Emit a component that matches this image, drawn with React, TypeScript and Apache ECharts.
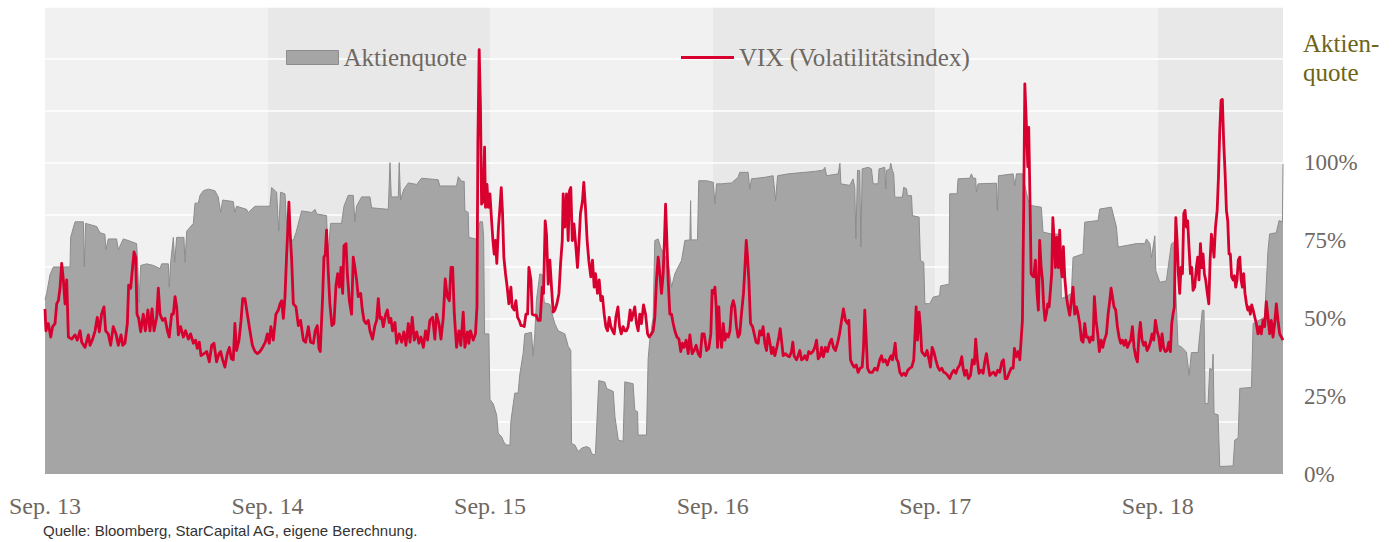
import React, { useEffect, useRef } from "react";
import * as echarts from "echarts";

// x values are months since Sep. 2013
const xTickLabels = ["Sep. 13", "Sep. 14", "Sep. 15", "Sep. 16", "Sep. 17", "Sep. 18"];
const xMax = 66.75;

const legendNames = ["Aktienquote", "VIX (Volatilitätsindex)"];
const sourceNote = "Quelle: Bloomberg, StarCapital AG, eigene Berechnung.";
const rightAxisTitle = "Aktien-\nquote";

// Aktienquote in % [month, value]
const aktienquote: number[][] = [
  [0,56],[0.09,58],[0.27,64],[0.45,66.5],[1.35,66.5],[1.38,76],[1.62,81],[2.07,81],[2.12,66.5],[2.19,80.5],[2.79,79.5],[2.96,77.5],[3.23,77],[3.29,72],[3.41,75.5],[3.86,75.5],[3.95,72],[4.22,75.5],[4.49,75],[4.94,74],[5.0,67],[5.07,55],[5.16,67],[5.48,67.5],[5.84,67],[6.2,66],[6.29,67.5],[6.65,67.5],[6.7,60],[6.77,67.5],[6.92,76],[6.99,68],[7.1,76],[7.49,76],[7.55,68],[7.64,78],[8.0,80.5],[8.09,87],[8.27,87],[8.36,89.5],[8.54,91],[8.8,91.5],[9.16,91],[9.34,89],[9.47,84],[9.58,88],[10.15,87.5],[10.24,84],[10.33,86],[10.87,85],[10.96,84],[11.32,86],[12.13,86],[12.22,92],[12.49,90.5],[12.6,78],[12.7,90.5],[12.94,90],[13.06,76],[13.39,75],[13.53,77.5],[13.84,84.5],[14.38,84],[14.56,85],[14.65,83.5],[15.18,83],[15.26,70.5],[15.4,80.5],[15.99,80.5],[16.12,86],[16.35,89.5],[16.62,89.5],[16.71,81],[16.8,86],[17.07,89],[17.52,89],[17.61,85.5],[18.51,85],[18.6,100],[18.67,89],[19.05,89],[19.1,100],[19.17,88],[19.35,91.5],[19.59,93.5],[20.04,93],[20.3,95],[21.2,94.5],[21.29,92.5],[22.19,92.5],[22.28,95.5],[22.46,94],[22.6,94],[22.64,84.6],[22.82,84],[22.85,76],[23.21,75.5],[23.29,75.5],[23.45,81],[23.59,81],[23.65,76],[23.7,45],[23.93,45],[23.99,24],[24.17,22.5],[24.35,19],[24.44,13],[24.62,12],[24.76,10],[24.89,9.3],[25.07,9.3],[25.12,17],[25.33,26],[25.51,26],[25.6,32],[25.78,38.7],[25.87,45],[26.23,45.5],[26.32,38],[26.41,45],[26.5,56],[26.68,64.3],[26.81,64],[26.92,55],[27.22,54.5],[27.31,52],[27.49,48.3],[27.67,46],[28.03,45],[28.21,41],[28.35,39.7],[28.39,9.8],[28.57,9.3],[28.75,7.2],[28.93,8.3],[29.2,8.8],[29.38,8.3],[29.47,6.6],[29.61,6.1],[29.68,6.6],[29.86,30],[30.19,29.5],[30.28,27.5],[30.64,26.5],[30.73,18.4],[30.91,10.9],[31.17,10.5],[31.26,29.6],[31.71,29],[31.8,20.5],[31.95,20],[31.98,12.5],[32.43,12.5],[32.52,37],[32.61,43],[32.79,50.4],[32.88,75],[33.06,75.5],[33.21,72.5],[33.6,68],[33.78,60],[33.96,64.3],[34.14,66.5],[34.32,68.6],[34.5,75],[34.77,75.2],[34.81,87.8],[34.84,75.2],[35.18,75.2],[35.25,94.2],[35.67,94.2],[36.03,93.7],[36.12,86.8],[36.21,93.2],[36.48,93.2],[37.02,93.5],[37.37,95.3],[37.46,96.9],[37.91,96.9],[38.0,91.5],[38.09,94.8],[38.81,95.3],[39.26,95.8],[39.39,87.8],[39.5,95.8],[40.07,96.4],[40.97,96.9],[41.51,97.2],[41.96,97.6],[42.05,98.5],[42.14,95.8],[42.77,96.4],[42.86,99.8],[42.91,93.2],[43.39,92.7],[43.57,94.8],[43.66,92],[43.72,75.5],[43.81,97.5],[43.93,97.5],[43.99,72.9],[44.06,98],[44.38,98.5],[44.56,98],[44.65,93.2],[44.92,93.2],[44.97,98],[45.28,98.5],[45.33,91.6],[45.37,97.5],[45.55,98],[45.6,99.8],[45.69,97.5],[45.76,96.4],[45.82,88.9],[46.23,88.9],[46.3,92.1],[46.45,91.6],[46.5,89.4],[46.72,89.4],[46.77,83],[47.13,82.5],[47.2,68.6],[47.38,68],[47.44,54.7],[47.71,54.7],[47.88,56.8],[48.24,57.3],[48.28,60.4],[48.75,61],[48.78,90],[49.18,90],[49.23,94.8],[49.86,95],[49.95,96.4],[50.04,95],[50.18,95],[50.22,90.5],[50.31,93.2],[51.3,93.4],[51.35,84.6],[51.41,95.8],[52.2,96.4],[52.29,92.6],[52.38,96.4],[52.7,96.4],[53.0,88],[53.19,86.2],[53.72,85.7],[53.81,77.7],[54.26,77.1],[54.75,77],[54.8,56.4],[55.07,57],[55.34,58],[55.43,69.6],[55.97,70.7],[56.06,80.9],[56.78,81.4],[56.87,85.1],[57.5,85.7],[57.77,79.3],[57.86,72.9],[58.85,74],[59.3,74],[59.39,75.5],[59.57,74],[59.66,69.5],[59.84,76.5],[59.89,65.4],[60.1,61.6],[60.46,62],[60.73,73.9],[60.86,74.5],[61.09,41.3],[61.27,40.8],[61.54,39.2],[61.69,31.7],[61.81,39],[62.17,39],[62.26,44.6],[62.4,52.6],[62.49,52.6],[62.55,22.6],[62.71,22.6],[62.8,33.9],[62.94,33.5],[62.98,38.5],[63.03,19.4],[63.25,19],[63.34,2.4],[64.06,2.6],[64.15,10.9],[64.33,11.5],[64.42,27.5],[65.05,27.8],[65.14,48.3],[65.76,50.4],[65.94,71.8],[66.03,77.1],[66.39,77.5],[66.54,81.4],[66.72,81],[66.75,99.6]
];

// VIX index level [month, value]
const vix: number[][] = [
  [0,15.9],[0.05,13.8],[0.18,14.5],[0.31,13.2],[0.41,14.2],[0.54,14.5],[0.63,16.4],[0.72,16.7],[0.81,17.9],[0.9,20.3],[0.99,18.7],[1.08,16.4],[1.17,18.7],[1.26,13.2],[1.44,13.0],[1.62,13.4],[1.74,12.9],[1.89,13.8],[1.98,12.7],[2.16,12.2],[2.34,13.4],[2.43,12.4],[2.57,13.0],[2.7,13.8],[2.82,15.1],[2.93,13.7],[3.05,15.4],[3.18,16.1],[3.27,13.8],[3.41,13.5],[3.54,12.4],[3.68,14.2],[3.83,13.5],[3.95,12.4],[4.1,13.4],[4.19,12.4],[4.31,12.6],[4.44,14.5],[4.51,18.2],[4.62,17.9],[4.69,19.3],[4.8,21.4],[4.89,20.9],[4.96,15.4],[5.05,15.0],[5.16,13.7],[5.3,15.4],[5.41,13.8],[5.55,15.8],[5.66,13.8],[5.77,15.9],[5.88,13.8],[6.02,15.1],[6.11,17.9],[6.2,15.4],[6.34,14.8],[6.47,15.0],[6.6,13.8],[6.7,13.2],[6.83,15.4],[6.92,15.4],[7.01,17.1],[7.1,16.1],[7.19,13.4],[7.31,14.2],[7.46,13.2],[7.58,13.8],[7.73,13.0],[7.85,13.5],[8.0,12.6],[8.12,12.9],[8.21,12.1],[8.32,12.7],[8.41,11.4],[8.57,11.6],[8.72,11.8],[8.86,10.8],[8.99,12.4],[9.11,12.6],[9.25,10.8],[9.38,11.6],[9.47,11.8],[9.58,11.0],[9.7,10.3],[9.83,11.6],[9.94,12.2],[10.05,11.1],[10.15,11.0],[10.24,14.5],[10.33,11.9],[10.46,12.9],[10.57,14.8],[10.66,16.9],[10.78,16.9],[10.91,15.4],[11.05,13.8],[11.18,12.4],[11.32,11.8],[11.45,11.6],[11.59,11.8],[11.73,12.2],[11.88,12.7],[11.99,13.5],[12.09,12.6],[12.18,14.2],[12.31,12.9],[12.45,15.4],[12.58,15.8],[12.67,16.4],[12.76,16.7],[12.85,15.0],[12.94,17.1],[13.03,21.2],[13.1,23.9],[13.15,26.2],[13.21,23.5],[13.3,20.6],[13.39,16.4],[13.53,16.1],[13.66,14.3],[13.78,14.8],[13.93,12.9],[14.05,12.7],[14.2,14.2],[14.32,12.7],[14.47,12.6],[14.57,13.8],[14.68,14.3],[14.77,12.1],[14.84,11.8],[14.97,17.1],[15.04,20.9],[15.11,21.1],[15.18,23.5],[15.27,19.6],[15.36,16.4],[15.47,14.3],[15.58,14.5],[15.69,18.2],[15.78,19.3],[15.87,18.0],[15.96,19.9],[16.05,17.4],[16.12,22.0],[16.23,22.2],[16.3,19.3],[16.41,16.7],[16.53,15.4],[16.62,20.9],[16.71,19.9],[16.8,18.7],[16.89,17.1],[17.02,17.4],[17.11,15.8],[17.2,14.8],[17.31,14.5],[17.43,14.8],[17.52,13.8],[17.66,13.0],[17.79,14.3],[17.88,14.8],[17.97,16.9],[18.06,15.0],[18.15,15.1],[18.24,14.2],[18.37,15.4],[18.46,15.8],[18.56,14.6],[18.65,15.0],[18.74,13.8],[18.87,14.6],[18.96,12.6],[19.1,13.5],[19.23,12.7],[19.35,13.7],[19.46,12.4],[19.59,14.5],[19.68,12.7],[19.8,15.1],[19.91,12.9],[20.04,13.7],[20.16,12.6],[20.27,13.2],[20.4,12.2],[20.52,13.8],[20.63,12.9],[20.75,14.8],[20.9,15.1],[21.02,13.0],[21.11,15.4],[21.24,14.5],[21.35,13.0],[21.47,15.0],[21.58,18.8],[21.69,17.1],[21.8,16.7],[21.89,19.9],[21.98,19.9],[22.07,15.4],
  [22.19,12.2],[22.32,13.8],[22.42,12.4],[22.55,15.6],[22.64,12.2],[22.78,13.7],[22.85,12.6],[22.94,13.8],[23.09,12.9],[23.21,13.5],[23.29,16.1],[23.34,32.1],[23.41,40.9],[23.48,35.3],[23.54,26.0],[23.63,26.3],[23.7,31.5],[23.75,25.7],[23.83,27.9],[23.9,25.7],[23.99,27.0],[24.08,24.4],[24.15,22.5],[24.22,21.2],[24.29,22.5],[24.36,20.3],[24.45,23.8],[24.53,25.7],[24.6,27.6],[24.67,25.1],[24.74,20.9],[24.83,19.3],[24.92,18.0],[25.01,16.4],[25.12,18.0],[25.19,16.1],[25.3,15.8],[25.39,16.7],[25.48,15.1],[25.57,14.8],[25.66,14.3],[25.75,14.3],[25.84,14.2],[25.93,15.4],[26.02,15.4],[26.09,19.9],[26.2,18.7],[26.27,15.4],[26.38,15.3],[26.48,15.3],[26.59,14.8],[26.7,14.8],[26.81,18.0],[26.88,17.4],[26.97,24.4],[27.04,23.1],[27.13,18.3],[27.22,20.6],[27.31,18.0],[27.4,15.6],[27.49,15.8],[27.6,16.4],[27.71,17.4],[27.8,20.3],[27.89,22.5],[27.94,27.0],[28.03,23.8],[28.12,27.0],[28.21,22.5],[28.28,27.3],[28.35,27.6],[28.43,22.5],[28.52,24.1],[28.61,22.2],[28.71,19.9],[28.78,21.9],[28.87,25.1],[28.98,26.3],[29.05,28.1],[29.14,25.7],[29.23,22.5],[29.32,20.6],[29.43,19.0],[29.52,20.6],[29.61,18.0],[29.68,19.3],[29.79,17.4],[29.88,18.7],[29.97,16.7],[30.06,17.1],[30.15,15.4],[30.24,14.2],[30.33,13.8],[30.42,15.1],[30.51,14.2],[30.6,13.8],[30.69,13.5],[30.78,15.1],[30.89,16.1],[30.98,14.2],[31.07,13.5],[31.17,14.2],[31.26,13.8],[31.35,13.8],[31.44,14.2],[31.55,15.8],[31.62,14.8],[31.71,15.4],[31.8,16.1],[31.89,14.5],[31.98,13.8],[32.07,15.4],[32.16,14.5],[32.27,16.3],[32.38,15.4],[32.49,13.5],[32.58,13.2],[32.7,13.5],[32.79,13.8],[32.88,15.1],[32.97,18.7],[33.06,20.9],[33.15,19.3],[33.24,17.4],[33.33,19.3],[33.4,22.5],[33.46,26.0],[33.53,22.5],[33.6,18.7],[33.69,15.4],[33.78,15.4],[33.87,14.5],[33.96,13.8],[34.07,13.2],[34.18,13.0],[34.28,11.8],[34.37,12.6],[34.46,12.2],[34.57,12.9],[34.68,11.6],[34.77,13.4],[34.89,11.6],[35.0,11.9],[35.11,12.4],[35.22,11.6],[35.33,11.3],[35.43,13.5],[35.54,13.5],[35.67,11.9],[35.79,12.1],[35.9,13.5],[35.97,17.7],[36.04,17.4],[36.12,18.0],[36.19,16.1],[36.26,12.2],[36.33,16.1],[36.4,13.5],[36.48,12.2],[36.57,14.5],[36.66,12.9],[36.75,13.5],[36.84,13.2],[36.93,13.8],[37.02,16.1],[37.11,16.7],[37.19,16.1],[37.28,14.2],[37.37,13.2],[37.46,13.5],[37.55,15.4],[37.66,17.4],[37.73,19.6],[37.81,22.5],[37.88,20.9],[37.95,18.7],[38.04,14.5],[38.15,14.2],[38.24,13.5],[38.34,12.7],[38.45,12.6],[38.54,13.8],[38.63,13.4],[38.72,14.2],[38.81,12.6],[38.9,11.9],[38.99,13.5],[39.08,12.7],[39.17,11.6],[39.26,12.2],[39.35,11.4],[39.46,12.2],[39.57,13.2],[39.64,14.0],[39.71,12.9],[39.8,11.4],[39.93,11.6],[40.03,11.4],[40.14,11.3],[40.25,11.8],[40.32,12.7],[40.39,11.4],[40.52,11.0],[40.61,11.4],[40.7,11.9],[40.79,11.0],[40.88,11.1],[40.97,11.4],[41.08,11.0],[41.18,11.8],[41.29,11.6],[41.4,11.8],[41.51,12.2],[41.6,12.9],[41.69,11.1],[41.8,11.4],[41.87,12.2],[41.97,11.3],[42.08,12.2],[42.19,11.8],[42.3,12.6],[42.41,13.0],[42.51,12.2],[42.62,11.9],[42.73,12.6],[42.84,13.5],[42.95,14.8],[43.05,15.9],[43.16,14.8],[43.27,14.5],[43.34,14.8],[43.43,11.0],[43.52,10.6],[43.63,10.3],[43.74,10.5],[43.84,9.8],[43.95,10.2],[44.06,10.3],[44.13,12.1],[44.2,15.8],[44.28,12.9],[44.35,10.2],[44.45,9.8],
  [44.61,9.8],[44.74,10.2],[44.87,10.0],[45.01,11.0],[45.1,11.4],[45.19,10.8],[45.31,11.0],[45.42,10.5],[45.51,11.0],[45.62,11.4],[45.69,11.0],[45.76,11.6],[45.84,12.6],[45.91,11.1],[46.0,10.8],[46.09,9.8],[46.2,9.5],[46.3,9.7],[46.41,9.5],[46.52,10.0],[46.63,10.2],[46.73,10.3],[46.84,11.0],[46.91,13.5],[46.97,16.1],[47.04,12.9],[47.13,15.6],[47.2,14.2],[47.27,11.8],[47.35,11.6],[47.45,11.4],[47.56,11.9],[47.67,11.0],[47.74,10.3],[47.83,12.2],[47.92,11.8],[48.03,11.0],[48.14,10.3],[48.24,10.0],[48.35,10.2],[48.46,9.8],[48.57,9.7],[48.67,9.5],[48.78,9.2],[48.89,9.7],[49.0,10.0],[49.11,9.7],[49.21,10.2],[49.32,10.5],[49.43,11.3],[49.5,10.2],[49.59,9.5],[49.68,10.0],[49.79,9.2],[49.9,9.5],[50.0,11.0],[50.11,10.6],[50.18,13.0],[50.27,11.0],[50.36,9.7],[50.47,10.0],[50.58,9.7],[50.67,10.8],[50.76,11.6],[50.85,10.5],[50.94,9.5],[51.05,9.7],[51.15,9.8],[51.26,9.5],[51.37,10.0],[51.48,9.8],[51.59,10.8],[51.68,11.0],[51.77,9.2],[51.87,9.2],[51.98,9.7],[52.09,10.2],[52.2,10.2],[52.27,12.1],[52.38,11.3],[52.48,11.8],[52.56,11.0],[52.63,12.9],[52.7,14.8],[52.77,25.7],[52.83,37.6],[52.92,33.4],[52.99,29.6],[53.04,33.4],[53.1,27.3],[53.17,19.3],[53.24,19.1],[53.31,19.0],[53.4,20.6],[53.49,17.4],[53.56,15.8],[53.63,22.5],[53.71,19.9],[53.78,18.7],[53.85,16.1],[53.92,14.8],[53.99,15.4],[54.07,16.4],[54.14,16.1],[54.21,17.7],[54.28,19.3],[54.34,24.7],[54.41,22.5],[54.48,19.9],[54.55,22.8],[54.64,19.9],[54.71,23.5],[54.78,19.9],[54.84,19.0],[54.91,21.9],[54.98,19.0],[55.07,17.1],[55.16,16.1],[55.25,15.3],[55.34,16.7],[55.43,18.0],[55.52,15.4],[55.61,16.1],[55.7,15.4],[55.79,14.5],[55.88,12.9],[55.97,12.7],[56.06,14.5],[56.15,13.2],[56.24,13.2],[56.33,12.7],[56.42,13.2],[56.51,12.9],[56.58,17.1],[56.67,14.8],[56.76,13.5],[56.85,11.8],[56.94,12.9],[57.03,12.2],[57.12,12.9],[57.23,13.5],[57.32,15.4],[57.41,16.7],[57.48,17.9],[57.55,17.1],[57.64,16.1],[57.73,15.8],[57.82,14.2],[57.91,13.2],[58.0,12.6],[58.09,12.9],[58.18,12.4],[58.27,12.9],[58.36,12.2],[58.45,12.6],[58.54,12.9],[58.63,14.2],[58.72,12.2],[58.81,11.3],[58.9,10.8],[58.99,13.5],[59.06,14.6],[59.15,12.9],[59.24,12.4],[59.33,12.7],[59.42,11.9],[59.51,12.2],[59.6,12.7],[59.69,13.5],[59.78,12.9],[59.87,14.8],[59.96,13.8],[60.05,13.2],[60.14,11.9],[60.23,13.5],[60.32,12.1],[60.41,11.8],[60.5,11.9],[60.59,12.7],[60.68,11.8],[60.75,14.5],[60.82,15.4],[60.89,16.1],[60.97,24.7],[61.04,22.5],[61.11,19.3],[61.18,17.4],[61.25,19.9],[61.33,19.3],[61.4,25.1],[61.47,25.4],[61.54,23.8],[61.61,24.4],[61.68,21.9],[61.76,19.3],[61.83,19.9],[61.9,17.7],[61.99,18.0],[62.08,19.9],[62.15,20.9],[62.22,18.7],[62.3,22.2],[62.37,19.9],[62.44,21.2],[62.51,19.3],[62.58,18.7],[62.67,17.4],[62.75,16.4],[62.82,20.6],[62.89,23.1],[62.96,22.2],[63.03,20.9],[63.11,23.8],[63.2,25.4],[63.27,28.6],[63.34,33.1],[63.41,36.0],[63.48,36.1],[63.55,32.1],[63.63,28.9],[63.7,25.4],[63.77,24.4],[63.84,21.2],[63.91,21.2],[63.98,19.0],[64.06,18.7],[64.13,19.1],[64.2,18.0],[64.27,18.7],[64.34,20.6],[64.42,20.9],[64.49,18.7],[64.56,18.0],[64.63,19.3],[64.7,17.4],[64.78,16.4],[64.85,15.8],[64.92,16.1],[64.99,15.4],[65.06,16.3],[65.14,15.8],[65.23,15.1],[65.31,14.5],[65.4,13.5],[65.49,14.2],[65.58,13.5],[65.67,14.8],[65.76,14.2],[65.85,16.6],[65.94,15.1],[66.03,13.5],[66.12,14.8],[66.21,13.2],[66.3,14.5],[66.39,16.4],[66.48,14.8],[66.57,13.5],[66.66,13.2],[66.75,12.9]
];

const SERIF = "'Liberation Serif', 'Times New Roman', serif";
const TEXT_GREY = "#6f6862";
const RED = "#d7002f";

export default function App() {
  const ref = useRef<HTMLDivElement>(null);

  useEffect(() => {
    document.body.style.margin = "0";
    if (!ref.current) return;
    const chart = echarts.init(ref.current, undefined, { renderer: "svg" });
    chart.setOption({
      animation: false,
      backgroundColor: "#ffffff",
      grid: { left: 45, right: 114, top: 7, bottom: 68, containLabel: false },
      legend: [
        {
          data: [
            {
              name: legendNames[0],
              icon: "rect",
              itemStyle: { color: "#a5a5a5", borderColor: "#8c8c8c", borderWidth: 1 },
            },
          ],
          left: 281,
          top: 40,
          itemWidth: 52,
          itemHeight: 14,
          selectedMode: false,
          textStyle: { fontFamily: SERIF, fontSize: 25, color: TEXT_GREY },
        },
        {
          data: [{ name: legendNames[1], icon: "rect", itemStyle: { color: RED, borderWidth: 0 } }],
          left: 676,
          top: 40,
          itemWidth: 53,
          itemHeight: 3,
          selectedMode: false,
          textStyle: { fontFamily: SERIF, fontSize: 25, color: TEXT_GREY },
        },
      ],
      xAxis: {
        type: "value",
        min: 0,
        max: xMax,
        interval: 12,
        z: 0,
        axisLine: { show: false },
        axisTick: { show: false },
        splitLine: { show: false },
        splitArea: { show: true, areaStyle: { color: ["#f1f1f1", "#e8e8e8"] } },
        axisLabel: {
          margin: 20,
          fontFamily: SERIF,
          fontSize: 24,
          color: TEXT_GREY,
          formatter: (v: number) => {
            const i = Math.round(v / 12);
            return Math.abs(v - i * 12) < 1e-6 && xTickLabels[i] ? xTickLabels[i] : "";
          },
        },
      },
      yAxis: [
        {
          type: "value",
          min: 0,
          max: 45,
          interval: 5,
          position: "left",
          z: 1,
          axisLine: { show: false },
          axisTick: { show: false },
          axisLabel: { show: false },
          splitLine: { show: true, lineStyle: { color: "#ffffff", width: 1.6 } },
        },
        {
          type: "value",
          min: 0,
          max: 150,
          interval: 25,
          position: "right",
          z: 1,
          axisLine: { show: false },
          axisTick: { show: false },
          splitLine: { show: false },
          axisLabel: {
            margin: 21,
            fontFamily: SERIF,
            fontSize: 23,
            color: TEXT_GREY,
            formatter: (v: number) => (v <= 100 ? v + "%" : ""),
          },
        },
      ],
      graphic: [
        {
          type: "text",
          left: 1303,
          top: 29,
          style: {
            text: rightAxisTitle,
            font: `25px ${SERIF}`,
            lineHeight: 29,
            fill: "#6e6414",
          },
        },
        {
          type: "text",
          left: 43,
          top: 523,
          style: {
            text: sourceNote,
            font: "15px 'Liberation Sans', Arial, sans-serif",
            fill: "#333333",
          },
        },
      ],
      series: [
        {
          name: legendNames[0],
          type: "line",
          yAxisIndex: 1,
          data: aktienquote,
          showSymbol: false,
          symbol: "none",
          itemStyle: { color: "#a5a5a5" },
          lineStyle: { color: "#8c8c8c", width: 1 },
          areaStyle: { color: "#a5a5a5", opacity: 1 },
          z: 2,
        },
        {
          name: legendNames[1],
          type: "line",
          yAxisIndex: 0,
          data: vix,
          showSymbol: false,
          symbol: "none",
          itemStyle: { color: RED },
          lineStyle: { color: RED, width: 2.8, join: "round" },
          z: 3,
        },
      ],
    });
    return () => chart.dispose();
  }, []);

  return <div ref={ref} style={{ width: 1397, height: 542 }} />;
}
